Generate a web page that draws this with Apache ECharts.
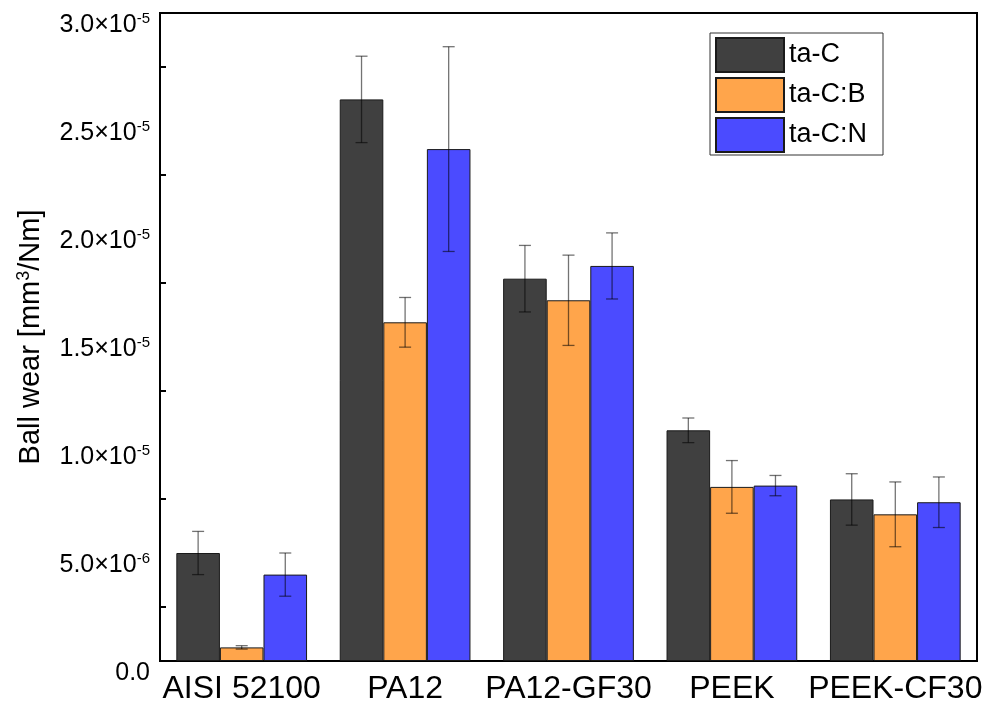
<!DOCTYPE html>
<html><head><meta charset="utf-8">
<script src="https://cdn.jsdelivr.net/npm/echarts@6/dist/echarts.min.js"></script>
<style>html,body{margin:0;padding:0;background:#fff}#c{width:999px;height:715px}</style>
</head><body><div id="c"></div>
<script>
const categories = ['AISI 52100', 'PA12', 'PA12-GF30', 'PEEK', 'PEEK-CF30'];
const seriesNames = ['ta-C', 'ta-C:B', 'ta-C:N'];
const taC      = [5.0e-6, 2.60e-5, 1.77e-5, 1.068e-5, 7.48e-6];
const taC_err  = [1.0e-6, 2.0e-6, 1.54e-6, 0.57e-6, 1.19e-6];
const taCB     = [0.63e-6, 1.568e-5, 1.67e-5, 8.06e-6, 6.79e-6];
const taCB_err = [0.08e-6, 1.15e-6, 2.09e-6, 1.22e-6, 1.5e-6];
const taCN     = [4.0e-6, 2.37e-5, 1.829e-5, 8.12e-6, 7.35e-6];
const taCN_err = [1.0e-6, 4.74e-6, 1.53e-6, 0.47e-6, 1.17e-6];
const yTickValues = [0, 5e-6, 1e-5, 1.5e-5, 2e-5, 2.5e-5, 3e-5];
const yTickLabels = ['0.0', '5.0×10^-6', '1.0×10^-5', '1.5×10^-5', '2.0×10^-5', '2.5×10^-5', '3.0×10^-5'];

const colors = ['#404040', '#FFA54B', '#4B4BFF'];
const values = [taC, taCB, taCN];
const errors = [taC_err, taCB_err, taCN_err];
const FONT = 'Liberation Sans';

function yFmt(v) {
  for (let i = 0; i < yTickValues.length; i++) {
    if (Math.abs(v - yTickValues[i]) < 1e-12) {
      const parts = yTickLabels[i].split('^');
      return parts.length > 1 ? '{b|' + parts[0] + '}{s|' + parts[1] + '}' : '{b|' + parts[0] + '}';
    }
  }
  return '';
}

function errSeries(k) {
  return {
    type: 'custom',
    name: seriesNames[k] + ' error',
    data: values[k].map((v, i) => [i, v - errors[k][i], v + errors[k][i]]),
    encode: { x: 0, y: [1, 2] },
    z: 10,
    silent: true,
    renderItem: function (params, api) {
      const i = api.value(0);
      const band = api.size([1, 0])[0];
      const bw = band * 0.8 / 3;
      const x0 = api.coord([i, 0])[0] + (k - 1) * bw;
      const yl = api.coord([i, api.value(1)])[1];
      const yh = api.coord([i, api.value(2)])[1];
      const hw = 6;
      const style = { stroke: 'rgba(0,0,0,0.55)', lineWidth: 1.3 };
      return {
        type: 'group', children: [
          { type: 'line', shape: { x1: x0, y1: yl, x2: x0, y2: yh }, style: style },
          { type: 'line', shape: { x1: x0 - hw, y1: yh, x2: x0 + hw, y2: yh }, style: style },
          { type: 'line', shape: { x1: x0 - hw, y1: yl, x2: x0 + hw, y2: yl }, style: style }
        ]
      };
    }
  };
}

const barSeries = seriesNames.map((n, k) => ({
  type: 'bar',
  name: n,
  data: values[k],
  barGap: '0%',
  barCategoryGap: '20%',
  itemStyle: { color: colors[k], borderColor: '#1a1a1a', borderWidth: 1 }
}));

const chart = echarts.init(document.getElementById('c'));
chart.setOption({
  animation: false,
  textStyle: { fontFamily: FONT },
  grid: { left: 160, right: 22, top: 13, bottom: 54, outerBoundsMode: 'none', containLabel: false, show: true, borderColor: '#000', borderWidth: 2, backgroundColor: 'transparent' },
  legend: {
    data: seriesNames,
    left: 710, top: 33,
    orient: 'vertical',
    itemWidth: 68, itemHeight: 34, itemGap: 4,
    padding: [4, 16, 2, 5],
    borderColor: '#333', borderWidth: 1,
    icon: 'rect',
    textStyle: { fontFamily: FONT, fontSize: 27, color: '#000' }
  },
  xAxis: {
    type: 'category',
    data: categories,
    axisLine: { lineStyle: { color: '#000', width: 2 } },
    axisTick: { alignWithLabel: true, length: 11, lineStyle: { color: '#000', width: 2 } },
    axisLabel: { interval: 0, fontFamily: FONT, fontSize: 32, color: '#000', margin: 12, hideOverlap: false },
    splitLine: { show: false }
  },
  yAxis: {
    type: 'value',
    min: 0, max: 3e-5, interval: 5e-6,
    name: '{a|Ball wear [mm}{s|3}{a|/Nm]}',
    nameLocation: 'middle',
    nameGap: 114,
    nameTextStyle: {
      rich: {
        a: { fontFamily: FONT, fontSize: 29, color: '#000' },
        s: { fontFamily: FONT, fontSize: 18, color: '#000', padding: [0, 0, 13, 0] }
      }
    },
    axisLine: { show: true, lineStyle: { color: '#000', width: 2 } },
    axisTick: { inside: true, length: 11, lineStyle: { color: '#000', width: 2 } },
    minorTick: { show: true, splitNumber: 2, length: 6, lineStyle: { color: '#000', width: 2 } },
    splitLine: { show: false },
    axisLabel: {
      margin: 10,
      formatter: yFmt,
      padding: [25, 0, 0, 0],
      rich: {
        b: { fontFamily: FONT, fontSize: 25, color: '#000' },
        s: { fontFamily: FONT, fontSize: 15, color: '#000', padding: [0, 0, 13, 0] }
      }
    }
  },
  series: barSeries.concat([errSeries(0), errSeries(1), errSeries(2)])
});
</script>
</body></html>
